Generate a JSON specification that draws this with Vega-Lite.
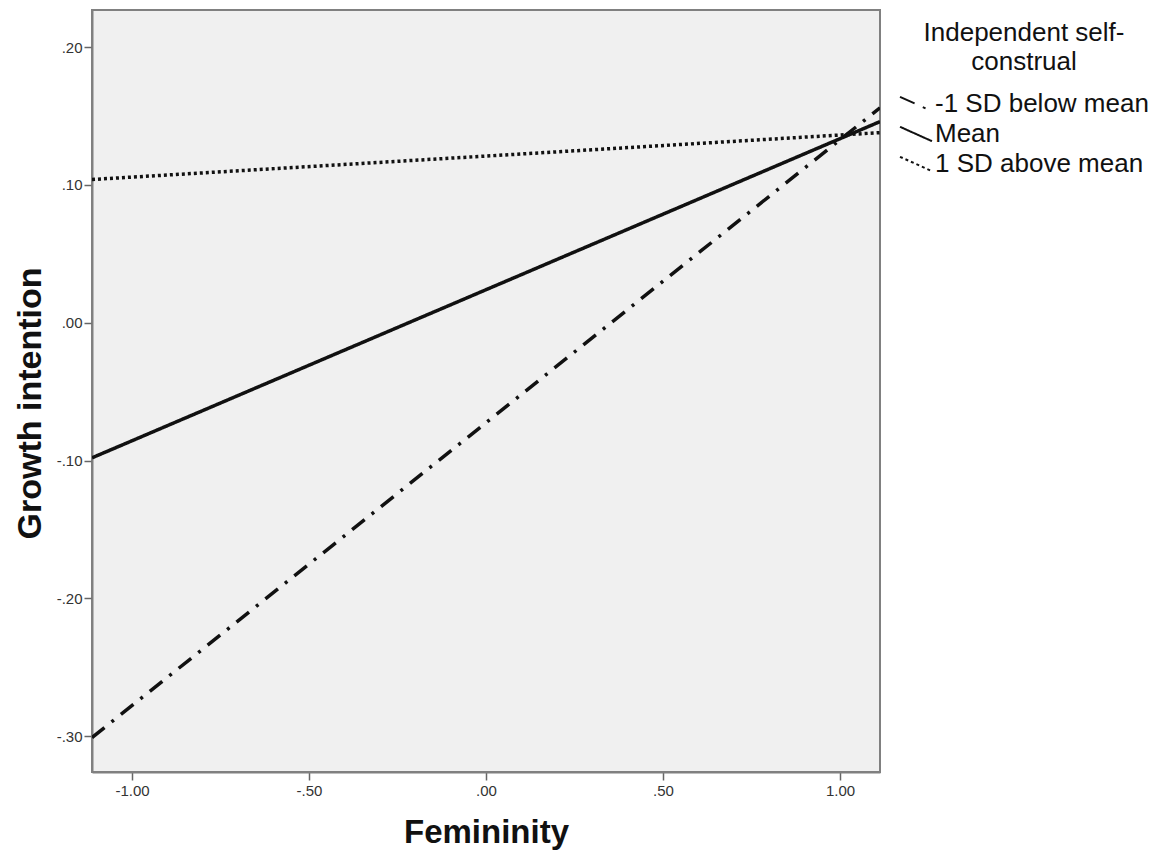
{
  "$schema": "https://vega.github.io/schema/vega-lite/v6.json",
  "width": 788,
  "height": 762,
  "autosize": "none",
  "padding": {"left": 92, "top": 10, "right": 277, "bottom": 84},
  "background": "white",
  "config": {
    "view": {"fill": "#f0f0f0", "stroke": "#808080", "strokeWidth": 2},
    "font": "Liberation Sans"
  },
  "data": {
    "values": [
      {"group": "-1 SD below mean", "x": -1.113, "y": -0.301},
      {"group": "-1 SD below mean", "x": 1.113, "y": 0.156},
      {"group": "Mean", "x": -1.113, "y": -0.098},
      {"group": "Mean", "x": 1.113, "y": 0.146},
      {"group": "1 SD above mean", "x": -1.113, "y": 0.104},
      {"group": "1 SD above mean", "x": 1.113, "y": 0.138}
    ]
  },
  "mark": {"type": "line", "color": "#111111", "strokeWidth": 3.5, "clip": true},
  "encoding": {
    "x": {
      "field": "x",
      "type": "quantitative",
      "scale": {"domain": [-1.113, 1.113], "nice": false, "zero": false},
      "axis": {
        "title": "Femininity",
        "values": [-1, -0.5, 0, 0.5, 1],
        "labelExpr": "replace(replace(format(datum.value, '.2f'), '0.', '.'), '\u2212', '-')",
        "grid": false,
        "domainColor": "#808080",
        "domainWidth": 2,
        "tickColor": "#666666",
        "tickWidth": 1.5,
        "tickSize": 8,
        "labelFontSize": 15,
        "labelColor": "#333333",
        "labelPadding": 3,
        "titleFontSize": 33,
        "titleFontWeight": "bold",
        "titleColor": "#111111",
        "titleBaseline": "middle",
        "titleY": 60
      }
    },
    "y": {
      "field": "y",
      "type": "quantitative",
      "scale": {"domain": [-0.326, 0.227], "nice": false, "zero": false},
      "axis": {
        "title": "Growth intention",
        "values": [-0.3, -0.2, -0.1, 0, 0.1, 0.2],
        "labelExpr": "replace(replace(format(datum.value, '.2f'), '0.', '.'), '\u2212', '-')",
        "grid": false,
        "domainColor": "#808080",
        "domainWidth": 2,
        "tickColor": "#666666",
        "tickWidth": 1.5,
        "tickSize": 8,
        "labelFontSize": 15,
        "labelColor": "#333333",
        "labelPadding": 2,
        "titleFontSize": 34,
        "titleFontWeight": "bold",
        "titleColor": "#111111",
        "titleAngle": -90,
        "titleBaseline": "middle",
        "titleAlign": "center",
        "titleX": -62,
        "titleY": 393
      }
    },
    "strokeDash": {
      "field": "group",
      "type": "nominal",
      "scale": {
        "domain": ["-1 SD below mean", "Mean", "1 SD above mean"],
        "range": [[16, 9, 3, 9], [1, 0], [3, 3]]
      },
      "legend": {
        "title": ["Independent self-", "construal"],
        "orient": "none",
        "legendX": 807,
        "legendY": 10,
        "padding": 0,
        "titleFontSize": 26,
        "titleFontWeight": "normal",
        "titleColor": "#111111",
        "titleLineHeight": 29,
        "titleAlign": "center",
        "titleAnchor": "middle",
        "titlePadding": 12,
        "titleLimit": 400,
        "labelFontSize": 26,
        "labelColor": "#111111",
        "labelLimit": 400,
        "labelOffset": 2,
        "symbolType": "M-1,-0.45L1,0.45",
        "symbolSize": 1024,
        "symbolStrokeWidth": 2,
        "symbolStrokeColor": "#111111",
        "rowPadding": 0
      }
    }
  }
}
